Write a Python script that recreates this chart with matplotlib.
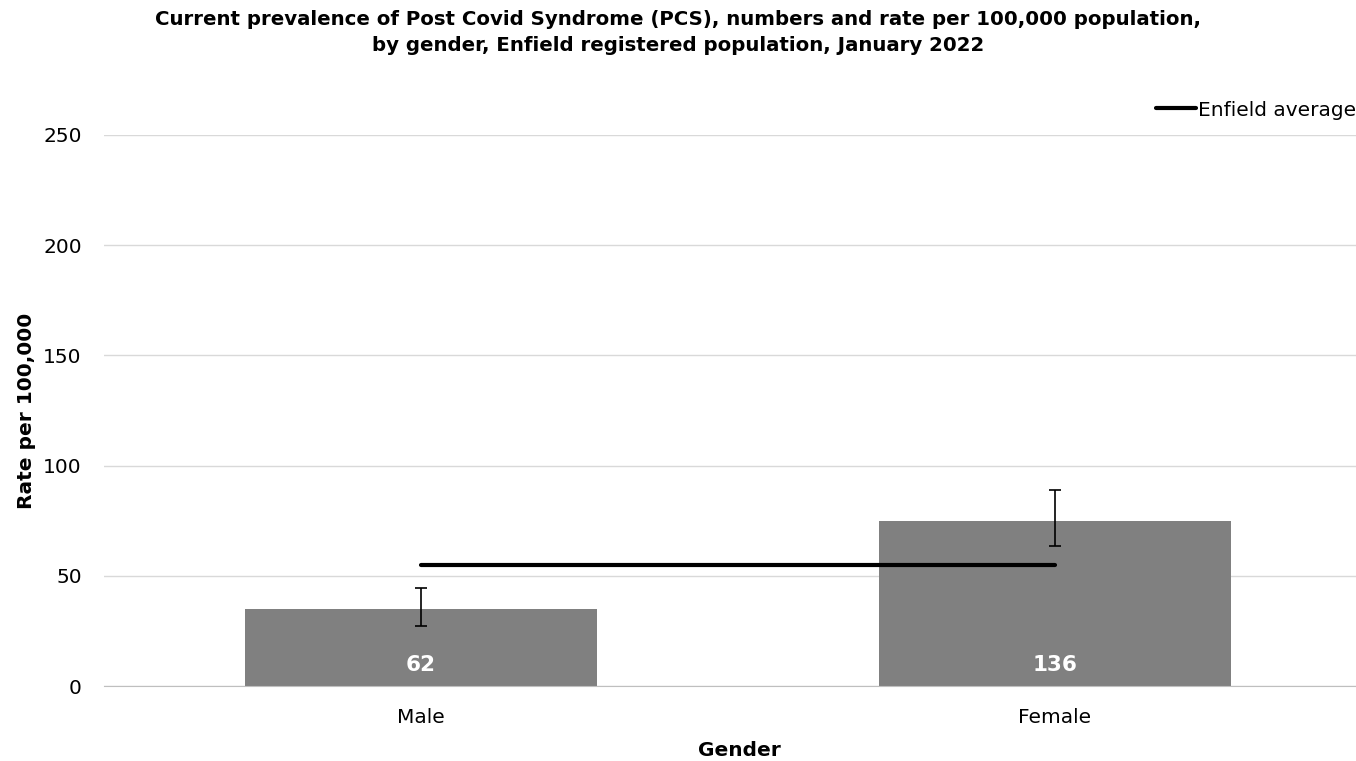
import matplotlib.pyplot as plt
import numpy as np

plt.rcParams['font.family'] = 'DejaVu Sans'

# data
genders = ["Male", "Female"]
rates = [35, 75]
ci_low = [27, 63.5]
ci_high = [44.5, 89]
counts = [62, 136]
enfield_avg = 55

W, H = 1356, 761
fig = plt.figure(figsize=(W / 100, H / 100), dpi=100)
# category slots are ~634 px wide, centred at 421 and 1055
ax = fig.add_axes([104 / W, 1 - 686 / H, 1268 / W, (686 - 135) / H])

x = np.arange(len(genders))
rates_arr = np.array(rates)
yerr = [rates_arr - np.array(ci_low), np.array(ci_high) - rates_arr]
ax.bar(x, rates, width=0.555, color='#808080', zorder=2)
ax.errorbar(x, rates, yerr=yerr, fmt='none', ecolor='black', elinewidth=1.2,
            capsize=4, capthick=1.2, zorder=3)
ax.plot(x, [enfield_avg] * len(x), color='black', lw=3, zorder=4,
        label='Enfield average', solid_capstyle='round')

for xi, c in zip(x, counts):
    ax.text(xi, 9.5, str(c), color='white', fontsize=15.5, fontweight='bold',
            ha='center', va='center', zorder=5)

ax.set_xlim(-0.5, 1.5)
ax.set_ylim(0, 250)
ax.set_yticks(range(0, 251, 50))
ax.set_xticks(x)
ax.set_xticklabels(genders)
ax.tick_params(axis='both', length=0, labelsize=14.5)
ax.tick_params(axis='x', pad=16)
ax.tick_params(axis='y', pad=16)
ax.grid(axis='y', color='#d9d9d9', lw=1, zorder=0)
ax.set_axisbelow(True)
for s in ['top', 'right', 'left']:
    ax.spines[s].set_visible(False)
ax.spines['bottom'].set_color('#bfbfbf')

ax.set_ylabel('Rate per 100,000', fontsize=14.5, fontweight='bold', labelpad=5)
ax.set_xlabel('Gender', fontsize=14.5, fontweight='bold')
# x label sits under the plot area that is visible (axes run past the right edge)
ax.xaxis.set_label_coords((739 - 104) / 1268, -64 / 551)
ax.xaxis.label.set_va('center')

fig.suptitle('Current prevalence of Post Covid Syndrome (PCS), numbers and rate per 100,000 population,\n'
             'by gender, Enfield registered population, January 2022',
             fontsize=14.2, fontweight='bold', x=0.5, y=1 - 10 / H, linespacing=1.45)

fig.legend(loc='center right', bbox_to_anchor=(1.0, 1 - 110 / H), frameon=False, fontsize=14.5,
           handlelength=2.0, handletextpad=0.1, borderpad=0, borderaxespad=0)

fig.savefig('out.png', dpi=100)
